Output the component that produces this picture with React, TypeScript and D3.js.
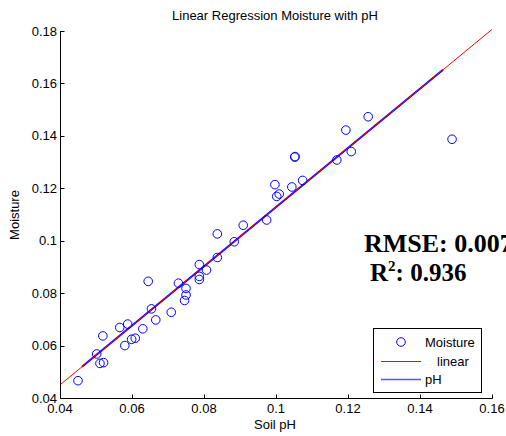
import React from "react";
import * as d3 from "d3";

// Scatter data: Soil pH (x) vs Moisture (y)
const soilPH = [
  0.0450, 0.0502, 0.0511, 0.0521, 0.0519, 0.0566, 0.0588, 0.0580, 0.0599, 0.0609,
  0.0630, 0.0645, 0.0654, 0.0666, 0.0709, 0.0729, 0.0750, 0.0750, 0.0746, 0.0787,
  0.0807, 0.0787, 0.0787, 0.0837, 0.0837, 0.0884, 0.0909, 0.0974, 0.0997, 0.1002,
  0.1009, 0.1044, 0.1074, 0.1052, 0.1053, 0.1169, 0.1209, 0.1194, 0.1256, 0.1489,
];
const moisture = [
  0.0466, 0.0568, 0.0532, 0.0535, 0.0637, 0.0669, 0.0682, 0.0600, 0.0624, 0.0628,
  0.0664, 0.0845, 0.0740, 0.0698, 0.0727, 0.0838, 0.0818, 0.0793, 0.0772, 0.0909,
  0.0888, 0.0864, 0.0852, 0.1026, 0.0936, 0.0996, 0.1059, 0.1079, 0.1214, 0.1169,
  0.1178, 0.1205, 0.1230, 0.1319, 0.1321, 0.1308, 0.1340, 0.1422, 0.1473, 0.1387,
];

// Fitted lines (endpoints)
const linearLine: [number, number][] = [
  [0.04, 0.045],
  [0.16, 0.1806],
];
const phLine: [number, number][] = [
  [0.0461, 0.0519],
  [0.1464, 0.1652],
];

const xTicks = [0.04, 0.06, 0.08, 0.1, 0.12, 0.14, 0.16];
const yTicks = [0.04, 0.06, 0.08, 0.1, 0.12, 0.14, 0.16, 0.18];
const fmt = (v: number) => String(+v.toFixed(2));

const title = "Linear Regression Moisture with pH";
const xLabel = "Soil pH";
const yLabel = "Moisture";
const legendItems = ["Moisture", "linear", "pH"];
const rmseText = "RMSE: 0.007";
const r2Value = ": 0.936";

const W = 506;
const H = 436;
const sans = "'Liberation Sans', Arial, sans-serif";
const serif = "'Liberation Serif', 'Times New Roman', serif";

export default function App() {
  const x = d3.scaleLinear().domain([0.04, 0.16]).range([60, 492]);
  const y = d3.scaleLinear().domain([0.04, 0.18]).range([398, 31]);
  const line = d3
    .line<[number, number]>()
    .x((d) => x(d[0]))
    .y((d) => y(d[1]));

  const x0 = 60.5;
  const yBottom = 398.5;

  return (
    <svg
      width={W}
      height={H}
      style={{ position: "absolute", left: 0, top: 0, background: "#fff" }}
      fontFamily={sans}
    >
      <rect x={0} y={0} width={W} height={H} fill="#fff" />
      {/* title */}
      <text x={275} y={20} fontSize={13} textAnchor="middle" fill="#000">
        {title}
      </text>

      {/* fitted lines */}
      <path d={line(phLine) || ""} stroke="#0000ff" strokeWidth={2} fill="none" />
      <path d={line(linearLine) || ""} stroke="#ff0000" strokeWidth={1} fill="none" />

      {/* points */}
      {soilPH.map((v, i) => (
        <circle
          key={i}
          cx={x(v)}
          cy={y(moisture[i])}
          r={4.3}
          fill="none"
          stroke="#0000ff"
          strokeWidth={1}
        />
      ))}

      {/* axes */}
      <line x1={x0} x2={x0} y1={y(0.18)} y2={yBottom} stroke="#000" />
      <line x1={x0} x2={x(0.16) + 0.5} y1={yBottom} y2={yBottom} stroke="#000" />
      {yTicks.map((t) => (
        <g key={"y" + t}>
          <line
            x1={x0}
            x2={x0 + 4}
            y1={Math.round(y(t)) + 0.5}
            y2={Math.round(y(t)) + 0.5}
            stroke="#000"
          />
          <text x={57} y={y(t)} dy="0.35em" fontSize={13} textAnchor="end" fill="#000">
            {fmt(t)}
          </text>
        </g>
      ))}
      {xTicks.map((t) => (
        <g key={"x" + t}>
          <line
            x1={Math.round(x(t)) + 0.5}
            x2={Math.round(x(t)) + 0.5}
            y1={yBottom}
            y2={yBottom - 4}
            stroke="#000"
          />
          <text x={x(t)} y={413} fontSize={13} textAnchor="middle" fill="#000">
            {fmt(t)}
          </text>
        </g>
      ))}
      <text x={275} y={429} fontSize={13} textAnchor="middle" fill="#000">
        {xLabel}
      </text>
      <text
        transform="translate(19,215) rotate(-90)"
        fontSize={13}
        textAnchor="middle"
        fill="#000"
      >
        {yLabel}
      </text>

      {/* annotations */}
      <text x={364} y={252} fontFamily={serif} fontWeight="bold" fontSize={26} fill="#000">
        {rmseText}
      </text>
      <text x={370} y={281} fontFamily={serif} fontWeight="bold" fontSize={25} fill="#000">
        R<tspan fontSize={15} dy={-10}>2</tspan>
        <tspan dy={10}>{r2Value}</tspan>
      </text>

      {/* legend */}
      <rect x={373.5} y={328.5} width={108} height={64} fill="#fff" stroke="#000" />
      <circle cx={401} cy={342} r={4.3} fill="none" stroke="#0000ff" />
      <text x={425} y={347} fontSize={13} fill="#000">
        {legendItems[0]}
      </text>
      <line x1={381} x2={421} y1={361.5} y2={361.5} stroke="#ff0000" />
      <text x={437} y={366} fontSize={13} fill="#000">
        {legendItems[1]}
      </text>
      <line x1={381} x2={421} y1={379.5} y2={379.5} stroke="#5555ff" strokeWidth={1.5} />
      <text x={425} y={384} fontSize={13} fill="#000">
        {legendItems[2]}
      </text>
    </svg>
  );
}
